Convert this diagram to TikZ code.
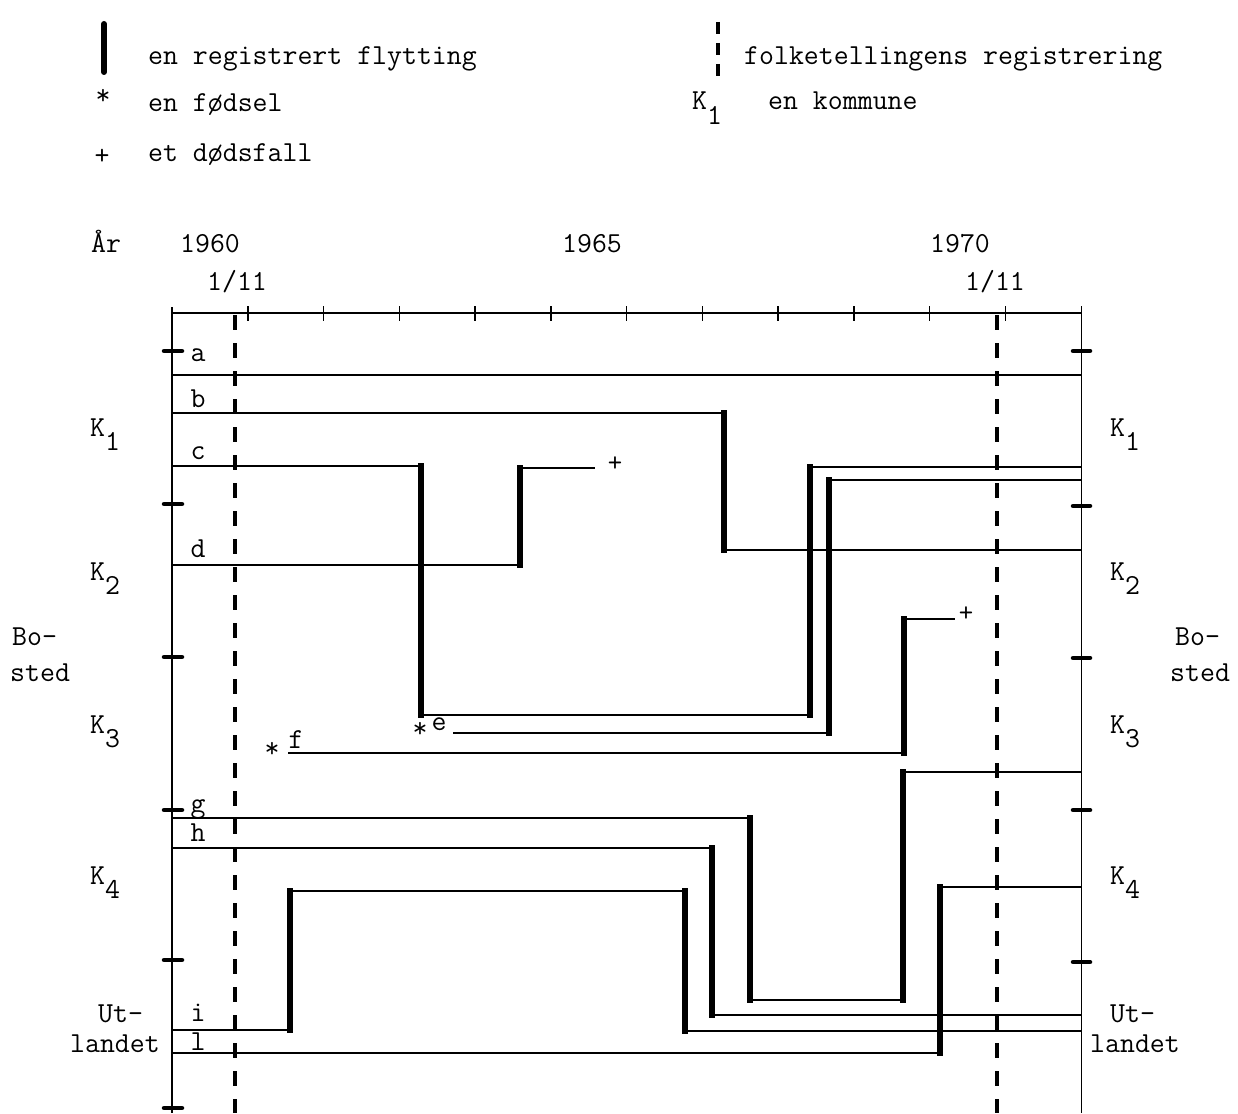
\documentclass[tikz,border=0pt]{standalone}
\usepackage{fontspec}
\usetikzlibrary{calc}
\newcommand\kom[1]{K\raisebox{-.5em}{#1}}

\begin{document}
\begin{tikzpicture}[x=1pt,y=-1pt,
  every node/.style={font=\ttfamily\fontsize{29}{33}\selectfont,inner sep=0pt},
  txt/.style={anchor=base west},
  lbl/.style={anchor=base},
  deathsign/.style={anchor=base,font=\ttfamily\fontsize{28}{30}\selectfont},
  life/.style={line width=1.5pt},
  move/.style={line width=5.5pt,line cap=rect},
  census/.style={line width=4.5pt,dash pattern=on 15pt off 13pt},
  bound/.style={line width=4.5pt,line cap=round}]
 \useasboundingbox (0,0) rectangle (1238,1113);
 % legend
 \draw[line width=6pt,line cap=round] (104,24)--(104,72);
 \node[txt] (lflytt) at (148,65) {en registrert flytting};
 \node[lbl] (lstar) at (103,105) {*};
 \node[txt] (lfodt) at (148,111) {en fødsel};
 \node[lbl] (lplus) at (102,164) {+};
 \node[txt] (ldod) at (148,161) {et dødsfall};
 \draw[line width=4.5pt,dash pattern=on 12pt off 9pt] (718,22)--(718,76);
 \node[txt] (lfolk) at (744,65) {\addfontfeature{LetterSpace=10}folketellingens registrering};
 \node[txt] (lkom) at (692,110) {\kom{1}};
 \node[txt] (lkomtxt) at (768,110) {en kommune};
 % axes
 \node[lbl] (aar) at (106,252) {År};
 \node[lbl] (y60) at (210,252) {1960};
 \node[lbl] (y65) at (592,252) {1965};
 \node[lbl] (y70) at (960,252) {1970};
 \node[lbl] (nov60) at (237,290) {1/11};
 \node[lbl] (nov70) at (995,290) {1/11};
 \draw[life] (172,307)--(172,1113);
 \draw[life] (172,313)--(1081,313);
 \draw[line width=1pt] (1081,306)--(1081,1113);
 \foreach \t in {1,...,11}
  \draw[life] ({172+75.75*\t},306)--({172+75.75*\t},321);
 \foreach \y in {351,504,657,810,960,1108}
  \draw[bound] (164,\y)--(182,\y);
 \foreach \y in {351,506,658,810,962}
  \draw[bound] (1073,\y)--(1090,\y);
 \draw[census] (235,315)--(235,1113);
 \draw[census] (997,315)--(997,1113);
 % kommuner
 \foreach \k/\y in {1/436,2/580,3/733,4/884}{
  \node[txt] (kl\k) at (90,\y) {\kom{\k}};
  \node[txt] (kr\k) at (1110,\y) {\kom{\k}};
 }
 \node[txt] (bol) at (12,645) {Bo-};
 \node[txt] (stedl) at (10,681) {sted};
 \node[txt] (bor) at (1175,645) {Bo-};
 \node[txt] (stedr) at (1170,681) {sted};
 \node[txt] (utl) at (98,1022) {Ut-};
 \node[anchor=base east] (landl) at (160,1052) {landet};
 \node[txt] (utr) at (1110,1022) {Ut-};
 \node[txt] (landr) at (1090,1052) {landet};
 % personer
 \foreach \p/\y in {a/361,b/407,c/459,d/557,g/812,h/841,i/1021,l/1050}
  \node[lbl] (p\p) at (198,\y) {\p};
 \node[lbl] (pe) at (439,730) {e};
 \node[lbl] (se) at (420,737) {*};
 \node[lbl] (pf) at (296,748) {f};
 \node[lbl] (sf) at (272,757) {*};
 \node[deathsign] (dd) at (615,471) {+};
 \node[deathsign] (df) at (966,621) {+};
 \draw[life] (172,375)--(1081,375);
 \draw[life] (172,413)--(724,413)--(724,550)--(1081,550);
 \draw[life] (172,466)--(421,466)--(421,715)--(810,715)--(810,467)--(1081,467);
 \draw[life] (172,565)--(520,565)--(520,468)--(595,468);
 \draw[life] (453,733)--(829,733)--(829,480)--(1081,480);
 \draw[life] (288,753)--(904,753)--(904,619)--(955,619);
 \draw[life] (172,818)--(750,818)--(750,1000)--(903,1000)--(903,772)--(1081,772);
 \draw[life] (172,848)--(712,848)--(712,1015)--(1081,1015);
 \draw[life] (172,1030)--(290,1030)--(290,891)--(685,891)--(685,1031)--(1081,1031);
 \draw[life] (172,1053)--(940,1053)--(940,887)--(1081,887);
 \foreach \x/\ya/\yb in {724/413/550,421/466/715,810/715/467,520/565/468,
   829/733/480,904/753/619,750/818/1000,903/1000/772,712/848/1015,
   290/1030/891,685/891/1031,940/1053/887}
  \draw[move] (\x,\ya)--(\x,\yb);
\end{tikzpicture}
\end{document}
